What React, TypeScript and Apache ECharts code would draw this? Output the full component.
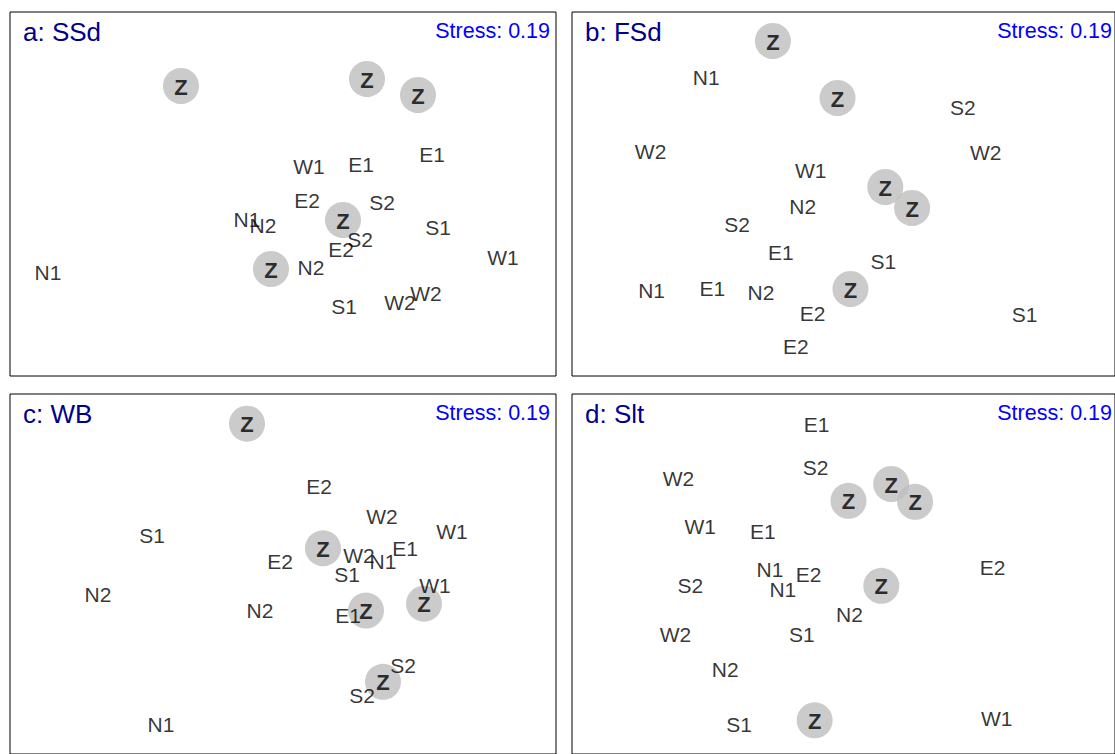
import React, { useEffect, useRef } from "react";
import * as echarts from "echarts";

// NMDS ordination coordinates (axis units)
type Pt = [string, number, number];

const panelTitles = ["a: SSd", "b: FSd", "c: WB", "d: Slt"];
const stressLabels = ["Stress: 0.19", "Stress: 0.19", "Stress: 0.19", "Stress: 0.19"];

const zA: number[][] = [[-1.02, 1.08], [0.84, 1.15], [1.35, 0.99], [0.60, -0.26], [-0.12, -0.75]];
const sitesA: Pt[] = [
  ["W1", 0.26, 0.28], ["E1", 0.78, 0.30], ["E1", 1.49, 0.40], ["E2", 0.24, -0.06],
  ["S2", 0.99, -0.08], ["N1", -0.36, -0.25], ["N2", -0.20, -0.31], ["S1", 1.55, -0.33],
  ["S2", 0.77, -0.45], ["E2", 0.58, -0.55], ["N2", 0.28, -0.73], ["W1", 2.20, -0.63],
  ["N1", -2.35, -0.78], ["S1", 0.61, -1.12], ["W2", 1.17, -1.08], ["W2", 1.43, -0.99],
];

const zB: number[][] = [[-0.71, 1.53], [-0.06, 0.96], [0.42, 0.07], [0.69, -0.14], [0.07, -0.95]];
const sitesB: Pt[] = [
  ["N1", -1.38, 1.17], ["S2", 1.20, 0.87], ["W2", -1.94, 0.43], ["W2", 1.43, 0.42],
  ["W1", -0.33, 0.24], ["N2", -0.41, -0.12], ["S2", -1.07, -0.30], ["E1", -0.63, -0.58],
  ["S1", 0.40, -0.67], ["N1", -1.93, -0.96], ["E1", -1.32, -0.94], ["N2", -0.83, -0.98],
  ["E2", -0.31, -1.19], ["E2", -0.48, -1.52], ["S1", 1.82, -1.20],
];

const zC: number[][] = [[-0.36, 1.52], [0.40, 0.26], [0.83, -0.37], [1.41, -0.30], [1.00, -1.09]];
const sitesC: Pt[] = [
  ["E2", 0.36, 0.88], ["W2", 0.99, 0.58], ["W1", 1.69, 0.43], ["S1", -1.31, 0.39],
  ["E2", -0.03, 0.13], ["W2", 0.76, 0.19], ["E1", 1.22, 0.26], ["N1", 1.00, 0.13],
  ["S1", 0.64, 0.00], ["W1", 1.52, -0.12], ["N2", -1.85, -0.21], ["N2", -0.23, -0.37],
  ["E1", 0.65, -0.42], ["S2", 1.20, -0.93], ["S2", 0.79, -1.23], ["N1", -1.22, -1.52],
];

const zD: number[][] = [[0.05, 0.74], [0.48, 0.91], [0.72, 0.73], [0.38, -0.12], [-0.29, -1.48]];
const sitesD: Pt[] = [
  ["E1", -0.27, 1.51], ["S2", -0.28, 1.08], ["W2", -1.66, 0.97], ["W1", -1.44, 0.48],
  ["E1", -0.81, 0.43], ["N1", -0.74, 0.05], ["E2", -0.35, -0.01], ["N1", -0.61, -0.16],
  ["S2", -1.54, -0.12], ["E2", 1.50, 0.07], ["N2", 0.06, -0.41], ["S1", -0.42, -0.61],
  ["W2", -1.69, -0.61], ["N2", -1.19, -0.97], ["S1", -1.05, -1.52], ["W1", 1.54, -1.46],
];

const xRange = [-2.73, 2.73];
const yRange = [-1.82, 1.82];

const FONT = "'Liberation Sans', Arial, Helvetica, sans-serif";

export default function App() {
  const ref = useRef<HTMLDivElement>(null);
  useEffect(() => {
    if (!ref.current) return;
    const chart = echarts.init(ref.current, undefined, { renderer: "svg" });
    const panels = [
      { left: 10, top: 12, z: zA, s: sitesA },
      { left: 572, top: 12, z: zB, s: sitesB },
      { left: 10, top: 394, z: zC, s: sitesC },
      { left: 572, top: 394, z: zD, s: sitesD },
    ];
    const W = 546;
    const H = 364;
    const grid = panels.map((p) => ({
      left: p.left, top: p.top, width: W, height: H,
      show: true, borderColor: "#000", borderWidth: 1, backgroundColor: "#fff",
      containLabel: false,
    }));
    const xAxis = panels.map((_, i) => ({
      type: "value", gridIndex: i, min: xRange[0], max: xRange[1], show: false,
    }));
    const yAxis = panels.map((_, i) => ({
      type: "value", gridIndex: i, min: yRange[0], max: yRange[1], show: false,
    }));
    const series: any[] = [];
    panels.forEach((p, i) => {
      series.push({
        type: "scatter", xAxisIndex: i, yAxisIndex: i, z: 2,
        symbol: "circle", symbolSize: 36,
        itemStyle: { color: "#BEBEBE" },
        label: {
          show: true, position: "inside", formatter: "Z", offset: [0, 1],
          color: "#000", fontWeight: "bold", fontSize: 22, fontFamily: FONT,
        },
        data: p.z.map((v) => ({ value: v, name: "Z" })),
      });
      series.push({
        type: "scatter", xAxisIndex: i, yAxisIndex: i, z: 3,
        symbol: "circle", symbolSize: 1,
        itemStyle: { color: "rgba(0,0,0,0)" },
        label: {
          show: true, position: "inside", formatter: "{b}",
          color: "#000", fontSize: 21, fontFamily: FONT,
        },
        labelLayout: { hideOverlap: false },
        data: p.s.map((d) => ({ value: [d[1], d[2]], name: d[0] })),
      });
    });
    const graphic: any[] = [];
    panels.forEach((p, i) => {
      graphic.push({
        type: "text", x: p.left + 13, y: p.top + 20, z: 10,
        style: {
          text: panelTitles[i], fill: "#00008B", font: `26px ${FONT}`,
          textAlign: "left", textVerticalAlign: "middle",
        },
      });
      graphic.push({
        type: "text", x: p.left + W - 6, y: p.top + 19, z: 10,
        style: {
          text: stressLabels[i], fill: "#0000FF", font: `21.5px ${FONT}`,
          textAlign: "right", textVerticalAlign: "middle",
        },
      });
    });
    chart.setOption({
      animation: false,
      backgroundColor: "#fff",
      grid, xAxis, yAxis, series, graphic,
      tooltip: { show: false },
    });
    return () => chart.dispose();
  }, []);
  return (
    <div
      ref={ref}
      style={{ position: "absolute", left: 0, top: 0, width: 1115, height: 754 }}
    />
  );
}
